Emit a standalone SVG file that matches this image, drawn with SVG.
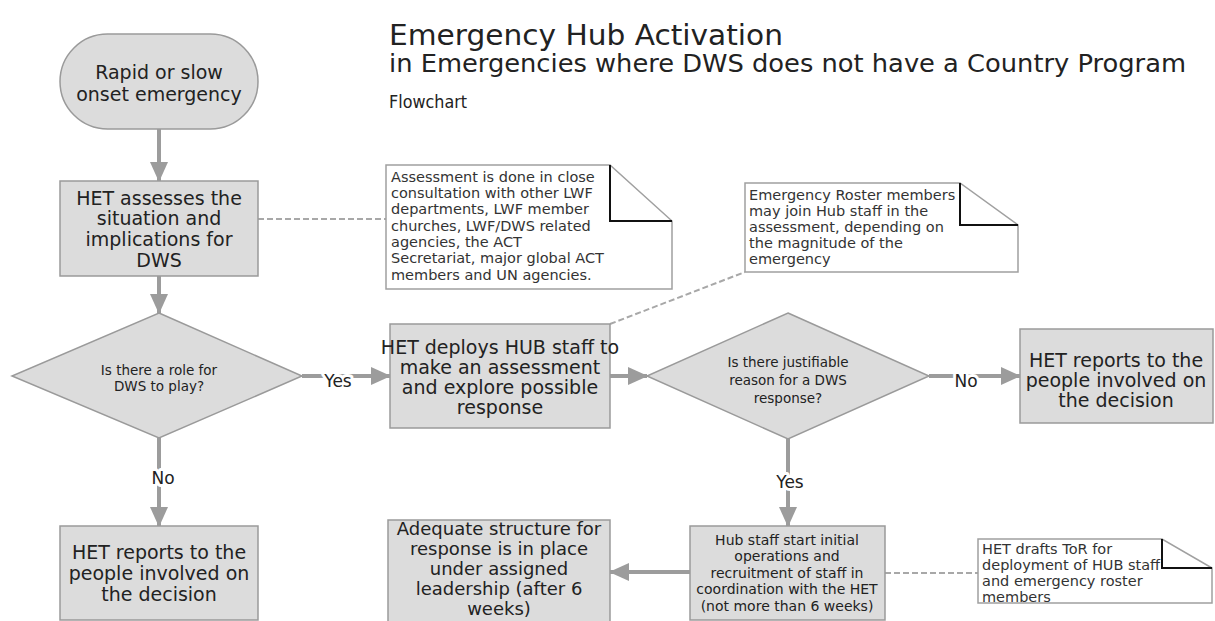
<svg xmlns="http://www.w3.org/2000/svg" width="1215" height="621" viewBox="0 0 1215 621">
<defs>
<style>
.bg{fill:#ffffff}
.shape{fill:#dcdcdc;stroke:#9a9a9a;stroke-width:1.5}
.note{fill:#ffffff;stroke:#a0a0a0;stroke-width:1.5}
.fold{fill:none;stroke:#111;stroke-width:2}
.con{fill:none;stroke:#9c9c9c;stroke-width:4}
.dash{fill:none;stroke:#a8a8a8;stroke-width:2;stroke-dasharray:6 3}
text{font-family:"DejaVu Sans","Liberation Sans",sans-serif;fill:#222}
.t{font-size:19px;text-anchor:middle}
.a{font-size:18px;text-anchor:middle}
.d{font-size:13.5px;text-anchor:middle}
.n{font-size:14.5px;fill:#333}
.h{font-size:14px;text-anchor:middle}
.lbl{font-size:17px;text-anchor:middle;stroke:#fff;stroke-width:6;paint-order:stroke;stroke-linejoin:round}
.title{fill:#1a1a1a}
</style>
<marker id="ah" markerUnits="userSpaceOnUse" markerWidth="20" markerHeight="18" refX="19" refY="9" orient="auto">
<path d="M0,0 L20,9 L0,18 z" fill="#9c9c9c"/>
</marker>
</defs>
<rect class="bg" x="0" y="0" width="1215" height="621"/>

<g id="titles" class="title">
<text x="389" y="45" font-size="28" textLength="394" lengthAdjust="spacingAndGlyphs">Emergency Hub Activation</text>
<text x="389" y="72" font-size="24" textLength="797" lengthAdjust="spacingAndGlyphs">in Emergencies where DWS does not have a Country Program</text>
<text x="389" y="108" font-size="17" textLength="78" lengthAdjust="spacingAndGlyphs">Flowchart</text>
</g>

<g id="connectors">
<line class="con" x1="159" y1="129" x2="159" y2="181" marker-end="url(#ah)"/>
<line class="con" x1="159" y1="276" x2="159" y2="313" marker-end="url(#ah)"/>
<line class="con" x1="159" y1="438" x2="159" y2="526" marker-end="url(#ah)"/>
<line class="con" x1="302" y1="376" x2="390" y2="376" stroke-width="3" marker-end="url(#ah)"/>
<line class="con" x1="610" y1="376" x2="647" y2="376" stroke-width="3" marker-end="url(#ah)"/>
<line class="con" x1="929" y1="376" x2="1020" y2="376" stroke-width="3" marker-end="url(#ah)"/>
<line class="con" x1="788" y1="439" x2="788" y2="526" marker-end="url(#ah)"/>
<line class="con" x1="690" y1="572" x2="610" y2="572" marker-end="url(#ah)"/>
<line class="dash" x1="258" y1="219" x2="386" y2="219"/>
<line class="dash" x1="610" y1="324" x2="745" y2="272"/>
<line class="dash" x1="885" y1="573" x2="978" y2="573"/>
<text class="lbl" x="163" y="484">No</text>
<text class="lbl" x="338" y="387">Yes</text>
<text class="lbl" x="966" y="387">No</text>
<text class="lbl" x="790" y="488">Yes</text>
</g>

<g id="start">
<rect class="shape" x="60" y="34" width="198" height="95" rx="47.5"/>
<text class="t" x="159" y="79">Rapid or slow</text>
<text class="t" x="159" y="101">onset emergency</text>
</g>

<g id="assess">
<rect class="shape" x="60" y="181" width="198" height="95"/>
<text class="t" x="159" y="205">HET assesses the</text>
<text class="t" x="159" y="225">situation and</text>
<text class="t" x="159" y="246">implications for</text>
<text class="t" x="159" y="267">DWS</text>
</g>

<g id="decision1">
<polygon class="shape" points="159,313 302,376 159,438 12,376"/>
<text class="d" x="159" y="374.5">Is there a role for</text>
<text class="d" x="159" y="390.5">DWS to play?</text>
</g>

<g id="report-left">
<rect class="shape" x="60" y="526" width="198" height="94"/>
<text class="t" x="159" y="559">HET reports to the</text>
<text class="t" x="159" y="580">people involved on</text>
<text class="t" x="159" y="601">the decision</text>
</g>

<g id="deploy">
<rect class="shape" x="390" y="324" width="220" height="104"/>
<text class="t" x="500" y="354">HET deploys HUB staff to</text>
<text class="t" x="500" y="374">make an assessment</text>
<text class="t" x="500" y="394">and explore possible</text>
<text class="t" x="500" y="414">response</text>
</g>

<g id="decision2">
<polygon class="shape" points="788,313 929,376 788,439 647,376"/>
<text class="d" x="788" y="366.5">Is there justifiable</text>
<text class="d" x="788" y="384.5">reason for a DWS</text>
<text class="d" x="788" y="402.5">response?</text>
</g>

<g id="report-right">
<rect class="shape" x="1020" y="329" width="193" height="94"/>
<text class="t" x="1116" y="366.5">HET reports to the</text>
<text class="t" x="1116" y="386.5">people involved on</text>
<text class="t" x="1116" y="406.5">the decision</text>
</g>

<g id="hub">
<rect class="shape" x="690" y="526" width="195" height="94"/>
<text class="h" x="787" y="545">Hub staff start initial</text>
<text class="h" x="787" y="561">operations and</text>
<text class="h" x="787" y="578">recruitment of staff in</text>
<text class="h" x="787" y="594">coordination with the HET</text>
<text class="h" x="787" y="611">(not more than 6 weeks)</text>
</g>

<g id="adequate">
<rect class="shape" x="388" y="520" width="222" height="110"/>
<text class="a" x="499" y="535">Adequate structure for</text>
<text class="a" x="499" y="555">response is in place</text>
<text class="a" x="499" y="575">under assigned</text>
<text class="a" x="499" y="595">leadership (after 6</text>
<text class="a" x="499" y="615">weeks)</text>
</g>

<g id="note-assessment">
<polygon class="note" points="386,165 610,165 672,221 672,289 386,289"/>
<polyline class="fold" points="610,165 610,221 672,221"/>
<text class="n" x="391" y="182">Assessment is done in close</text>
<text class="n" x="391" y="198">consultation with other LWF</text>
<text class="n" x="391" y="214">departments, LWF member</text>
<text class="n" x="391" y="231">churches, LWF/DWS related</text>
<text class="n" x="391" y="247">agencies, the ACT</text>
<text class="n" x="391" y="263">Secretariat, major global ACT</text>
<text class="n" x="391" y="280">members and UN agencies.</text>
</g>

<g id="note-roster">
<polygon class="note" points="745,183 960,183 1018,225 1018,272 745,272"/>
<polyline class="fold" points="960,183 960,225 1018,225"/>
<text class="n" x="749" y="200">Emergency Roster members</text>
<text class="n" x="749" y="216">may join Hub staff in the</text>
<text class="n" x="749" y="232">assessment, depending on</text>
<text class="n" x="749" y="248">the magnitude of the</text>
<text class="n" x="749" y="264">emergency</text>
</g>

<g id="note-tor">
<polygon class="note" points="978,539 1162,539 1212,568 1212,603 978,603"/>
<polyline class="fold" points="1162,539 1162,568 1212,568"/>
<text class="n" x="982" y="554">HET drafts ToR for</text>
<text class="n" x="982" y="570">deployment of HUB staff</text>
<text class="n" x="982" y="586">and emergency roster</text>
<text class="n" x="982" y="602">members</text>
</g>
</svg>
